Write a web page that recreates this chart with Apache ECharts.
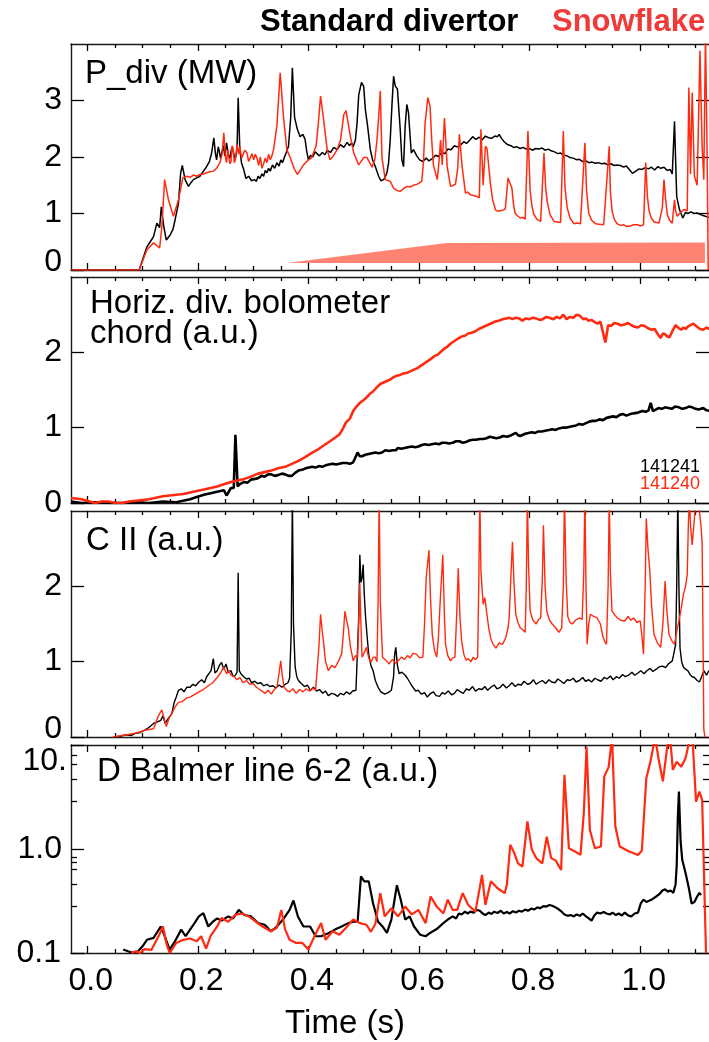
<!DOCTYPE html>
<html>
<head>
<meta charset="utf-8">
<script src="https://cdn.jsdelivr.net/npm/echarts@6/dist/echarts.min.js"></script>
<style>
  html, body { margin: 0; padding: 0; background: #fff; }
  #chart { width: 709px; height: 1042px; }
</style>
</head>
<body>
<div id="chart"></div>
<script>
// ---- time axis ----
const timeTicks = [0, 0.2, 0.4, 0.6, 0.8, 1.0];
const timeTickLabels = ['0.0', '0.2', '0.4', '0.6', '0.8', '1.0'];
const timeMinorTicks = [0.05, 0.1, 0.15, 0.25, 0.3, 0.35, 0.45, 0.5, 0.55, 0.65, 0.7, 0.75, 0.85, 0.9, 0.95, 1.05, 1.1];

// ---- panel value axes ----
const pdivTicks = [0, 1, 2, 3];
const pdivTickLabels = ['0', '1', '2', '3'];
const boloTicks = [0, 1, 2];
const boloTickLabels = ['0', '1', '2'];
const ciiTicks = [0, 1, 2];
const ciiTickLabels = ['0', '1', '2'];
const balmerTicks = [0.1, 1, 10];
const balmerTickLabels = ['0.1', '1.0', '10.'];
const balmerMinorTicks = [0.28, 0.46, 0.64, 0.74, 0.84, 2.9, 4.7, 6.6, 8.0];

// ---- shot numbers ----
const shotStandard = '141241';
const shotSnowflake = '141240';

// ---- P_div (MW), [time s, value] ----
const pdivStd = [
  [-0.029,0],[0.094,0],[0.108,0.41],[0.114,0.50],[0.120,0.59],[0.126,0.83],[0.131,0.75],[0.134,1.12],[0.138,0.80],
  [0.143,0.53],[0.150,0.62],[0.155,0.72],[0.159,0.89],[0.165,1.18],[0.169,1.72],[0.172,1.85],[0.177,1.60],[0.183,1.48],
  [0.188,1.55],[0.192,1.60],[0.198,1.63],[0.204,1.66],[0.208,1.72],[0.211,1.70],[0.214,1.80],[0.217,1.78],[0.221,1.92],
  [0.225,2.07],[0.229,2.34],[0.232,2.05],[0.234,1.95],[0.237,2.18],[0.239,2.10],[0.241,1.98],[0.243,2.05],[0.246,2.20],
  [0.249,2.02],[0.252,2.25],[0.255,2.05],[0.258,1.98],[0.261,2.15],[0.264,2.10],[0.267,1.96],[0.269,2.02],[0.271,2.15],
  [0.273,3.05],[0.276,2.13],[0.279,1.90],[0.283,1.78],[0.287,1.62],[0.292,1.66],[0.297,1.58],[0.302,1.60],[0.306,1.57],
  [0.309,1.66],[0.312,1.62],[0.316,1.70],[0.319,1.66],[0.322,1.76],[0.325,1.72],[0.328,1.80],[0.331,1.75],[0.335,1.86],
  [0.339,1.80],[0.343,1.90],[0.347,1.84],[0.350,1.95],[0.353,1.90],[0.356,1.98],[0.360,2.08],[0.364,2.19],[0.368,2.70],
  [0.371,3.58],[0.375,2.70],[0.380,2.49],[0.385,2.36],[0.390,2.40],[0.394,2.31],[0.397,2.10],[0.400,1.95],[0.404,2.03],
  [0.408,2.00],[0.412,2.09],[0.415,2.07],[0.420,2.02],[0.425,2.08],[0.430,2.04],[0.434,2.12],[0.440,2.08],[0.446,2.17],
  [0.452,2.13],[0.458,2.22],[0.464,2.17],[0.470,2.26],[0.474,2.20],[0.478,2.25],[0.481,2.18],[0.485,2.30],[0.488,2.60],
  [0.491,3.10],[0.496,3.32],[0.500,3.25],[0.503,2.84],[0.507,2.55],[0.512,2.13],[0.516,1.95],[0.521,1.83],[0.527,1.66],
  [0.531,1.58],[0.536,1.60],[0.539,1.65],[0.542,1.72],[0.545,1.90],[0.548,2.31],[0.551,2.90],[0.554,3.43],[0.557,3.26],
  [0.561,3.20],[0.566,2.49],[0.569,1.95],[0.572,1.83],[0.575,2.55],[0.578,2.93],[0.581,2.78],[0.586,2.07],[0.590,2.13],
  [0.596,2.02],[0.601,1.95],[0.607,1.92],[0.613,1.98],[0.618,1.93],[0.624,1.97],[0.630,2.03],[0.635,2.01],[0.641,2.08],
  [0.647,2.06],[0.652,2.14],[0.658,2.13],[0.664,2.20],[0.669,2.18],[0.675,2.21],[0.681,2.27],[0.686,2.24],[0.692,2.30],
  [0.697,2.36],[0.703,2.31],[0.709,2.35],[0.714,2.30],[0.720,2.37],[0.726,2.34],[0.731,2.33],[0.737,2.37],[0.742,2.36],
  [0.745,2.40],[0.749,2.33],[0.754,2.27],[0.760,2.22],[0.766,2.20],[0.771,2.17],[0.777,2.18],[0.783,2.15],[0.788,2.17],
  [0.794,2.14],[0.800,2.15],[0.805,2.12],[0.811,2.15],[0.817,2.14],[0.822,2.16],[0.828,2.12],[0.834,2.14],[0.839,2.11],
  [0.845,2.09],[0.851,2.06],[0.856,2.07],[0.862,2.03],[0.868,2.02],[0.873,1.99],[0.879,1.98],[0.885,1.95],[0.890,1.96],
  [0.896,1.92],[0.902,1.93],[0.907,1.90],[0.913,1.91],[0.919,1.89],[0.924,1.90],[0.930,1.88],[0.936,1.89],[0.941,1.86],
  [0.947,1.88],[0.953,1.85],[0.958,1.86],[0.964,1.85],[0.970,1.82],[0.975,1.84],[0.981,1.77],[0.986,1.71],[0.992,1.75],
  [0.998,1.79],[1.003,1.78],[1.009,1.81],[1.015,1.79],[1.020,1.82],[1.026,1.77],[1.032,1.83],[1.037,1.80],[1.043,1.82],
  [1.049,1.76],[1.054,1.78],[1.058,1.70],[1.062,2.63],[1.066,1.30],[1.071,1.07],[1.077,0.92],[1.082,1.02],[1.086,1.00],
  [1.092,1.03],[1.097,1.00],[1.103,1.01],[1.109,0.98],[1.115,0.96],[1.121,0.94],[1.128,0.93]
];
const pdivSnow = [
  [-0.029,0],[0.094,0],[0.108,0.36],[0.120,0.48],[0.131,0.39],[0.135,0.77],[0.140,1.60],[0.147,1.24],
  [0.156,0.95],[0.165,1.24],[0.173,1.63],[0.180,1.66],[0.186,1.64],[0.192,1.68],[0.198,1.66],[0.204,1.69],[0.210,1.70],
  [0.216,1.72],[0.222,1.74],[0.228,1.75],[0.234,1.80],[0.240,1.90],[0.244,2.05],[0.247,2.43],[0.250,2.00],[0.252,1.90],
  [0.254,2.12],[0.256,2.10],[0.258,1.88],[0.260,1.92],[0.262,2.20],[0.264,2.15],[0.266,1.90],[0.268,1.95],[0.271,2.22],
  [0.274,2.05],[0.276,2.19],[0.279,1.98],[0.282,2.00],[0.285,2.12],[0.289,2.07],[0.292,1.92],[0.295,1.90],[0.298,2.06],
  [0.301,1.95],[0.304,2.05],[0.307,1.98],[0.310,1.85],[0.313,2.00],[0.316,1.80],[0.319,1.88],[0.322,1.98],[0.325,1.90],
  [0.328,2.05],[0.331,1.95],[0.334,2.02],[0.337,2.13],[0.343,2.55],[0.349,3.49],[0.355,2.70],[0.361,2.13],[0.367,1.99],
  [0.374,1.80],[0.380,1.69],[0.386,1.78],[0.391,1.86],[0.400,1.95],[0.405,1.98],[0.409,2.07],[0.414,2.20],[0.418,2.60],
  [0.422,3.08],[0.427,2.70],[0.434,2.13],[0.439,1.95],[0.445,2.02],[0.452,2.13],[0.458,2.30],[0.464,2.75],[0.468,2.82],
  [0.476,2.36],[0.482,2.07],[0.491,1.86],[0.500,1.99],[0.506,1.99],[0.515,1.82],[0.520,1.95],[0.524,2.30],[0.527,2.70],
  [0.530,3.17],[0.533,1.99],[0.539,1.60],[0.548,1.57],[0.554,1.45],[0.560,1.41],[0.566,1.39],[0.572,1.44],[0.578,1.48],
  [0.584,1.47],[0.590,1.50],[0.597,1.52],[0.605,1.57],[0.608,1.90],[0.611,2.60],[0.616,3.05],[0.620,2.90],[0.623,2.30],
  [0.626,1.86],[0.633,1.60],[0.636,1.90],[0.639,2.30],[0.642,1.86],[0.646,2.69],[0.651,1.83],[0.657,1.48],[0.662,1.50],
  [0.666,1.52],[0.670,1.80],[0.673,2.40],[0.676,2.05],[0.678,1.83],[0.684,1.36],[0.688,1.38],[0.693,1.33],[0.699,1.32],
  [0.705,1.30],[0.709,1.28],[0.712,2.49],[0.716,1.50],[0.720,2.19],[0.723,2.15],[0.729,1.54],[0.733,1.25],[0.738,1.07],
  [0.742,1.04],[0.747,1.05],[0.752,1.06],[0.756,1.08],[0.761,1.63],[0.764,1.55],[0.768,1.45],[0.771,1.15],[0.774,1.00],
  [0.778,0.96],[0.783,0.92],[0.788,0.93],[0.792,0.90],[0.797,2.46],[0.801,1.40],[0.804,1.15],[0.807,1.00],[0.813,0.90],
  [0.820,0.86],[0.826,2.07],[0.829,1.45],[0.832,1.20],[0.837,0.98],[0.844,0.86],[0.850,0.85],[0.856,0.84],[0.861,2.46],
  [0.864,1.45],[0.868,1.10],[0.873,0.92],[0.880,0.82],[0.886,0.83],[0.892,0.82],[0.900,2.25],[0.903,1.40],[0.907,1.00],
  [0.912,0.88],[0.919,0.82],[0.926,0.81],[0.934,0.80],[0.944,2.19],[0.946,1.40],[0.949,1.05],[0.953,0.90],[0.958,0.82],
  [0.964,0.79],[0.970,0.80],[0.976,0.77],[0.982,0.78],[0.988,0.80],[0.995,0.80],[1.001,0.78],[1.006,0.80],[1.010,1.90],
  [1.013,1.30],[1.016,1.05],[1.020,0.92],[1.025,0.85],[1.030,0.84],[1.034,0.83],[1.040,1.10],[1.043,1.60],[1.046,1.25],
  [1.049,0.98],[1.053,0.88],[1.058,0.83],[1.062,1.24],[1.064,1.05],[1.067,0.95],[1.073,1.02],[1.079,1.07],[1.085,1.05],
  [1.088,3.23],[1.091,1.70],[1.094,3.14],[1.098,1.66],[1.103,1.50],[1.108,3.88],[1.112,2.20],[1.115,1.60],[1.118,4.20],
  [1.121,2.07],[1.123,0]
];
// snowflake coil ramp indicator: [time s, upper edge], lower edge fixed
const rampBase = 0.125;
const rampEdge = [[0.361,0.125],[0.650,0.48],[1.117,0.485]];

// ---- Horizontal divertor bolometer chord (a.u.) ----
const boloStd = [
  [-0.029,0.02],[-0.010,0.00],[0.014,0.01],[0.040,0.00],[0.063,0.00],[0.088,0.01],[0.112,0.00],[0.137,0.02],
  [0.161,0.01],[0.186,0.05],[0.198,0.08],[0.211,0.11],[0.223,0.13],[0.235,0.15],[0.247,0.17],[0.252,0.10],[0.260,0.20],
  [0.265,0.20],[0.268,0.905],[0.272,0.22],[0.276,0.25],[0.284,0.28],[0.290,0.27],[0.296,0.31],[0.303,0.32],[0.309,0.33],
  [0.315,0.36],[0.321,0.35],[0.327,0.38],[0.333,0.38],[0.339,0.36],[0.345,0.37],[0.352,0.39],[0.358,0.38],[0.364,0.36],
  [0.370,0.36],[0.376,0.40],[0.382,0.43],[0.388,0.44],[0.395,0.46],[0.401,0.47],[0.407,0.48],[0.413,0.47],[0.419,0.49],
  [0.425,0.48],[0.431,0.50],[0.437,0.51],[0.444,0.52],[0.450,0.51],[0.456,0.52],[0.462,0.53],[0.469,0.53],[0.475,0.52],
  [0.481,0.54],[0.489,0.67],[0.493,0.62],[0.497,0.62],[0.503,0.64],[0.509,0.65],[0.515,0.66],[0.521,0.67],[0.527,0.66],
  [0.533,0.67],[0.539,0.70],[0.546,0.69],[0.552,0.70],[0.558,0.70],[0.562,0.73],[0.568,0.72],[0.574,0.73],[0.580,0.74],
  [0.587,0.75],[0.593,0.74],[0.599,0.75],[0.605,0.77],[0.611,0.78],[0.617,0.77],[0.623,0.78],[0.630,0.79],[0.636,0.78],
  [0.642,0.80],[0.648,0.80],[0.654,0.79],[0.661,0.80],[0.667,0.82],[0.673,0.82],[0.679,0.80],[0.685,0.81],[0.691,0.83],
  [0.697,0.84],[0.703,0.84],[0.710,0.85],[0.716,0.85],[0.722,0.86],[0.728,0.88],[0.734,0.87],[0.740,0.86],[0.746,0.87],
  [0.752,0.89],[0.759,0.88],[0.767,0.90],[0.775,0.93],[0.779,0.90],[0.783,0.89],[0.792,0.92],[0.798,0.93],[0.804,0.94],
  [0.810,0.93],[0.816,0.95],[0.822,0.95],[0.828,0.96],[0.835,0.97],[0.841,0.98],[0.847,0.97],[0.853,0.99],[0.859,1.00],
  [0.865,1.00],[0.871,1.01],[0.877,1.02],[0.884,1.03],[0.890,1.05],[0.896,1.04],[0.902,1.06],[0.908,1.08],[0.914,1.09],
  [0.920,1.09],[0.926,1.11],[0.933,1.10],[0.939,1.13],[0.945,1.14],[0.951,1.15],[0.957,1.14],[0.963,1.17],[0.969,1.18],
  [0.975,1.16],[0.982,1.18],[0.988,1.19],[0.996,1.20],[1.004,1.22],[1.010,1.21],[1.015,1.23],[1.019,1.33],[1.023,1.22],
  [1.028,1.24],[1.033,1.26],[1.039,1.25],[1.045,1.27],[1.051,1.26],[1.057,1.25],[1.063,1.28],[1.070,1.27],[1.076,1.25],
  [1.082,1.26],[1.088,1.28],[1.094,1.27],[1.100,1.25],[1.106,1.24],[1.114,1.26],[1.120,1.23],[1.128,1.22]
];
const boloSnow = [
  [-0.029,0.066],[-0.010,0.05],[0.000,0.03],[0.014,0.00],[0.026,0.02],[0.039,0.02],[0.051,0.00],[0.063,0.00],
  [0.076,0.02],[0.088,0.03],[0.100,0.04],[0.112,0.05],[0.124,0.07],[0.137,0.09],[0.149,0.10],[0.161,0.11],
  [0.174,0.12],[0.186,0.14],[0.198,0.16],[0.211,0.18],[0.223,0.20],[0.235,0.22],[0.247,0.25],[0.260,0.28],
  [0.272,0.30],[0.284,0.32],[0.296,0.35],[0.309,0.39],[0.321,0.41],[0.333,0.43],[0.345,0.46],[0.358,0.48],
  [0.370,0.52],[0.382,0.56],[0.394,0.61],[0.407,0.67],[0.419,0.72],[0.431,0.78],[0.443,0.84],[0.456,0.91],
  [0.462,0.98],[0.468,1.07],[0.475,1.12],[0.481,1.22],[0.487,1.28],[0.493,1.33],[0.499,1.36],[0.505,1.40],[0.511,1.45],
  [0.517,1.48],[0.523,1.53],[0.530,1.58],[0.536,1.60],[0.542,1.62],[0.548,1.64],[0.554,1.67],[0.560,1.69],[0.566,1.70],
  [0.572,1.72],[0.579,1.73],[0.585,1.75],[0.591,1.77],[0.597,1.79],[0.603,1.82],[0.609,1.85],[0.615,1.88],[0.621,1.91],
  [0.628,1.95],[0.634,1.97],[0.640,2.01],[0.646,2.05],[0.652,2.08],[0.658,2.12],[0.664,2.15],[0.670,2.18],[0.677,2.21],
  [0.683,2.22],[0.689,2.25],[0.695,2.26],[0.702,2.28],[0.708,2.31],[0.714,2.33],[0.720,2.35],[0.726,2.37],[0.732,2.39],
  [0.738,2.41],[0.744,2.42],[0.751,2.44],[0.757,2.45],[0.763,2.46],[0.769,2.44],[0.775,2.46],[0.781,2.45],[0.787,2.42],
  [0.793,2.45],[0.800,2.44],[0.806,2.46],[0.812,2.45],[0.818,2.43],[0.824,2.44],[0.830,2.47],[0.836,2.46],[0.843,2.44],
  [0.849,2.47],[0.855,2.45],[0.861,2.50],[0.867,2.44],[0.873,2.47],[0.879,2.46],[0.885,2.50],[0.890,2.49],[0.897,2.44],
  [0.902,2.45],[0.906,2.42],[0.912,2.43],[0.918,2.40],[0.923,2.38],[0.928,2.41],[0.931,2.40],[0.937,2.13],[0.942,2.36],
  [0.947,2.35],[0.953,2.39],[0.959,2.38],[0.965,2.36],[0.972,2.37],[0.978,2.39],[0.984,2.36],[0.990,2.34],[0.996,2.33],
  [1.002,2.36],[1.008,2.35],[1.014,2.32],[1.021,2.30],[1.026,2.31],[1.031,2.25],[1.037,2.19],[1.041,2.25],[1.045,2.24],
  [1.049,2.21],[1.053,2.20],[1.058,2.28],[1.064,2.36],[1.070,2.32],[1.074,2.30],[1.078,2.33],[1.082,2.31],[1.086,2.34],
  [1.091,2.36],[1.096,2.38],[1.103,2.34],[1.108,2.31],[1.114,2.30],[1.120,2.33],[1.128,2.30]
];

// ---- C II (a.u.) ----
const ciiStd = [
  [0.047,0],[0.060,0.01],[0.071,0.03],[0.080,0.02],[0.088,0.05],[0.096,0.06],[0.104,0.09],[0.112,0.13],[0.120,0.18],
  [0.127,0.20],[0.133,0.22],[0.137,0.28],[0.141,0.18],[0.147,0.25],[0.153,0.31],[0.157,0.45],[0.161,0.53],[0.165,0.62],
  [0.170,0.64],[0.175,0.60],[0.180,0.66],[0.186,0.66],[0.191,0.70],[0.196,0.68],[0.202,0.73],[0.207,0.76],[0.212,0.72],
  [0.216,0.80],[0.219,0.79],[0.224,0.88],[0.228,1.04],[0.231,0.85],[0.235,0.88],[0.239,0.95],[0.243,0.99],[0.247,0.90],
  [0.251,0.97],[0.255,0.86],[0.260,0.88],[0.264,0.80],[0.268,0.82],[0.271,0.86],[0.273,2.18],[0.275,0.88],[0.278,0.84],
  [0.283,0.80],[0.288,0.77],[0.293,0.78],[0.297,0.72],[0.303,0.74],[0.308,0.71],[0.314,0.72],[0.319,0.68],[0.325,0.70],
  [0.330,0.67],[0.336,0.68],[0.341,0.65],[0.347,0.69],[0.352,0.66],[0.358,0.70],[0.363,0.72],[0.366,0.78],[0.369,1.40],
  [0.371,3.20],[0.373,1.50],[0.376,0.93],[0.379,0.80],[0.382,0.75],[0.387,0.71],[0.393,0.67],[0.398,0.69],[0.404,0.62],
  [0.409,0.66],[0.415,0.61],[0.420,0.63],[0.426,0.58],[0.431,0.61],[0.436,0.55],[0.442,0.58],[0.447,0.57],[0.453,0.54],
  [0.458,0.58],[0.464,0.56],[0.469,0.60],[0.475,0.57],[0.480,0.61],[0.486,0.62],[0.489,0.62],[0.491,1.60],[0.493,2.42],
  [0.495,2.05],[0.497,2.11],[0.499,2.29],[0.501,1.90],[0.503,1.63],[0.506,1.35],[0.509,1.10],[0.513,0.95],[0.517,0.88],
  [0.521,0.75],[0.526,0.66],[0.531,0.60],[0.538,0.57],[0.544,0.59],[0.550,0.62],[0.554,0.80],[0.556,1.10],[0.558,1.19],
  [0.561,0.95],[0.564,0.84],[0.569,0.86],[0.575,0.82],[0.579,0.78],[0.583,0.73],[0.588,0.67],[0.594,0.61],[0.599,0.62],
  [0.604,0.57],[0.610,0.59],[0.615,0.53],[0.621,0.58],[0.626,0.60],[0.631,0.55],[0.637,0.54],[0.642,0.59],[0.647,0.57],
  [0.653,0.61],[0.659,0.56],[0.664,0.58],[0.669,0.63],[0.675,0.60],[0.680,0.58],[0.686,0.64],[0.691,0.62],[0.697,0.67],
  [0.702,0.61],[0.708,0.64],[0.714,0.63],[0.719,0.67],[0.724,0.62],[0.730,0.66],[0.736,0.69],[0.741,0.64],[0.747,0.66],
  [0.752,0.70],[0.758,0.65],[0.763,0.68],[0.768,0.72],[0.774,0.67],[0.779,0.70],[0.785,0.69],[0.790,0.74],[0.796,0.70],
  [0.801,0.71],[0.807,0.76],[0.812,0.70],[0.818,0.73],[0.823,0.75],[0.829,0.71],[0.835,0.76],[0.840,0.73],[0.846,0.72],
  [0.851,0.77],[0.857,0.74],[0.862,0.71],[0.868,0.76],[0.873,0.75],[0.879,0.78],[0.884,0.73],[0.890,0.75],[0.896,0.79],
  [0.901,0.74],[0.907,0.76],[0.912,0.73],[0.918,0.78],[0.923,0.76],[0.929,0.74],[0.935,0.79],[0.940,0.77],[0.946,0.81],
  [0.951,0.76],[0.957,0.80],[0.962,0.78],[0.968,0.83],[0.973,0.80],[0.979,0.82],[0.985,0.86],[0.990,0.82],[0.996,0.85],
  [1.001,0.88],[1.007,0.84],[1.012,0.88],[1.018,0.91],[1.023,0.87],[1.029,0.90],[1.034,0.93],[1.040,0.94],[1.046,0.92],
  [1.051,0.97],[1.058,1.01],[1.062,1.15],[1.064,1.23],[1.066,2.00],[1.068,3.20],[1.070,2.00],[1.072,1.18],[1.075,1.00],
  [1.078,0.93],[1.082,0.90],[1.086,0.88],[1.090,0.83],[1.094,0.80],[1.098,0.79],[1.103,0.75],[1.107,0.73],[1.111,0.80],
  [1.115,0.88],[1.120,0.82],[1.124,0.88],[1.128,0.86]
];
const ciiSnow = [
  [0.047,0],[0.071,0.03],[0.088,0.05],[0.104,0.09],[0.120,0.11],[0.128,0.27],[0.135,0.36],[0.139,0.25],[0.143,0.14],
  [0.148,0.25],[0.153,0.31],[0.159,0.40],[0.165,0.46],[0.172,0.47],[0.180,0.52],[0.186,0.53],[0.193,0.56],[0.202,0.60],
  [0.210,0.63],[0.219,0.68],[0.227,0.72],[0.235,0.79],[0.241,0.85],[0.247,0.93],[0.252,0.84],[0.256,0.88],[0.260,0.82],
  [0.266,0.80],[0.271,0.76],[0.276,0.79],[0.282,0.72],[0.288,0.75],[0.294,0.70],[0.300,0.71],[0.306,0.66],[0.312,0.63],
  [0.318,0.60],[0.322,0.58],[0.327,0.62],[0.333,0.57],[0.338,0.63],[0.343,0.66],[0.346,0.80],[0.350,1.01],[0.353,0.80],
  [0.356,0.66],[0.361,0.62],[0.366,0.60],[0.372,0.64],[0.378,0.58],[0.384,0.63],[0.390,0.60],[0.396,0.64],[0.402,0.61],
  [0.408,0.65],[0.413,0.62],[0.416,0.64],[0.419,1.20],[0.422,1.63],[0.425,1.40],[0.427,1.28],[0.431,1.00],[0.436,0.88],
  [0.442,0.95],[0.448,0.92],[0.454,1.00],[0.460,1.10],[0.463,1.35],[0.466,1.67],[0.469,1.55],[0.472,1.45],[0.476,1.20],
  [0.481,1.01],[0.485,1.08],[0.489,1.06],[0.491,1.50],[0.493,2.04],[0.495,1.50],[0.497,1.06],[0.501,1.12],[0.505,1.19],
  [0.509,1.05],[0.513,0.99],[0.517,1.06],[0.521,1.06],[0.524,1.00],[0.526,1.80],[0.528,3.20],[0.530,1.80],[0.534,1.06],
  [0.540,1.02],[0.546,0.97],[0.552,1.03],[0.558,0.98],[0.562,1.01],[0.568,1.06],[0.574,1.03],[0.579,1.08],[0.584,1.05],
  [0.589,1.11],[0.595,1.10],[0.601,1.05],[0.607,1.06],[0.610,1.50],[0.613,2.11],[0.618,2.48],[0.621,1.80],[0.624,1.36],
  [0.628,1.15],[0.632,1.06],[0.635,1.30],[0.638,1.76],[0.643,2.42],[0.646,1.60],[0.648,1.23],[0.652,1.08],[0.657,1.01],
  [0.661,1.05],[0.665,1.06],[0.668,1.60],[0.671,2.24],[0.674,1.60],[0.677,1.28],[0.681,1.10],[0.685,1.02],[0.689,1.04],
  [0.694,1.00],[0.698,1.06],[0.702,1.03],[0.706,1.06],[0.708,2.00],[0.710,3.20],[0.712,2.20],[0.716,1.76],[0.719,1.85],
  [0.722,1.67],[0.726,1.45],[0.730,1.30],[0.734,1.23],[0.739,1.18],[0.745,1.25],[0.751,1.23],[0.757,1.32],[0.761,1.45],
  [0.763,1.58],[0.766,2.10],[0.769,2.59],[0.772,2.00],[0.775,1.63],[0.779,1.52],[0.783,1.45],[0.788,1.42],[0.792,1.39],
  [0.794,2.00],[0.796,3.20],[0.798,2.30],[0.801,1.67],[0.806,1.55],[0.812,1.50],[0.816,1.56],[0.820,1.58],[0.823,2.10],
  [0.825,2.81],[0.828,2.00],[0.831,1.67],[0.836,1.55],[0.841,1.50],[0.847,1.45],[0.853,1.39],[0.858,1.45],[0.861,2.00],
  [0.863,3.20],[0.866,2.10],[0.869,1.60],[0.873,1.52],[0.877,1.50],[0.883,1.55],[0.890,1.58],[0.895,1.56],[0.898,2.20],
  [0.900,3.20],[0.902,2.00],[0.904,1.23],[0.907,1.50],[0.910,1.63],[0.916,1.60],[0.922,1.58],[0.928,1.50],[0.932,1.35],
  [0.935,1.28],[0.939,1.23],[0.942,2.00],[0.944,3.20],[0.946,2.20],[0.949,1.67],[0.954,1.62],[0.959,1.58],[0.965,1.55],
  [0.972,1.54],[0.978,1.60],[0.983,1.55],[0.988,1.58],[0.994,1.52],[1.000,1.54],[1.003,1.35],[1.006,1.10],[1.009,2.00],
  [1.011,2.90],[1.014,2.50],[1.017,2.24],[1.021,1.70],[1.025,1.36],[1.031,1.25],[1.037,1.19],[1.041,1.50],[1.045,2.07],
  [1.048,1.70],[1.052,1.36],[1.057,1.28],[1.062,1.23],[1.066,1.40],[1.070,1.54],[1.074,1.70],[1.078,1.89],[1.082,2.00],
  [1.085,2.15],[1.087,2.80],[1.089,3.20],[1.091,2.80],[1.094,2.55],[1.098,2.90],[1.101,3.20],[1.104,3.10],[1.107,3.00],
  [1.110,2.80],[1.112,2.57],[1.114,1.00],[1.115,0.10],[1.117,0]
];

// ---- D Balmer line 6-2 (a.u.), log scale ----
const balmerStd = [
  [0.065,0.108],[0.080,0.101],[0.092,0.104],[0.100,0.116],[0.108,0.134],[0.120,0.140],[0.133,0.180],[0.138,0.156],
  [0.149,0.108],[0.157,0.125],[0.170,0.168],[0.178,0.145],[0.190,0.180],[0.202,0.225],[0.210,0.242],[0.219,0.180],
  [0.227,0.200],[0.235,0.215],[0.243,0.205],[0.255,0.225],[0.264,0.215],[0.274,0.260],[0.284,0.232],[0.296,0.225],
  [0.309,0.194],[0.321,0.187],[0.332,0.162],[0.341,0.175],[0.354,0.210],[0.366,0.260],[0.373,0.320],[0.381,0.225],
  [0.391,0.180],[0.403,0.180],[0.413,0.145],[0.423,0.145],[0.436,0.155],[0.448,0.168],[0.460,0.180],[0.472,0.194],
  [0.481,0.200],[0.489,0.200],[0.495,0.546],[0.501,0.490],[0.509,0.490],[0.517,0.300],[0.526,0.200],[0.534,0.180],
  [0.542,0.156],[0.550,0.210],[0.560,0.450],[0.567,0.326],[0.575,0.210],[0.583,0.225],[0.591,0.180],[0.602,0.150],
  [0.612,0.145],[0.620,0.156],[0.632,0.170],[0.644,0.194],[0.652,0.210],[0.661,0.225],[0.667,0.215],[0.672,0.240],
  [0.677,0.235],[0.683,0.250],[0.688,0.240],[0.693,0.250],[0.699,0.245],[0.704,0.260],[0.710,0.255],[0.715,0.240],
  [0.720,0.232],[0.726,0.245],[0.731,0.238],[0.736,0.250],[0.742,0.243],[0.748,0.255],[0.753,0.240],[0.759,0.248],
  [0.764,0.240],[0.770,0.253],[0.775,0.245],[0.781,0.255],[0.786,0.250],[0.792,0.262],[0.797,0.255],[0.803,0.268],
  [0.808,0.262],[0.814,0.275],[0.819,0.270],[0.825,0.283],[0.830,0.280],[0.836,0.290],[0.841,0.285],[0.847,0.275],
  [0.852,0.265],[0.858,0.250],[0.863,0.235],[0.869,0.228],[0.874,0.232],[0.880,0.225],[0.885,0.235],[0.891,0.228],
  [0.896,0.240],[0.902,0.225],[0.907,0.215],[0.912,0.205],[0.917,0.230],[0.922,0.245],[0.928,0.240],[0.934,0.248],
  [0.939,0.240],[0.945,0.235],[0.950,0.245],[0.956,0.232],[0.961,0.240],[0.967,0.230],[0.972,0.245],[0.978,0.230],
  [0.984,0.225],[0.990,0.240],[0.996,0.245],[1.001,0.300],[1.006,0.326],[1.011,0.310],[1.017,0.320],[1.022,0.330],
  [1.029,0.350],[1.035,0.370],[1.040,0.400],[1.045,0.410],[1.050,0.390],[1.055,0.400],[1.060,0.380],[1.064,0.460],
  [1.066,0.700],[1.068,2.00],[1.070,3.58],[1.073,1.20],[1.076,0.79],[1.082,0.59],[1.088,0.42],[1.093,0.30],
  [1.098,0.31],[1.103,0.35],[1.107,0.38],[1.110,0.36]
];
const balmerSnow = [
  [0.080,0.100],[0.088,0.104],[0.096,0.100],[0.104,0.109],[0.116,0.107],[0.129,0.145],[0.137,0.180],[0.143,0.125],
  [0.149,0.100],[0.161,0.125],[0.174,0.134],[0.186,0.138],[0.198,0.130],[0.206,0.145],[0.215,0.110],[0.223,0.145],
  [0.235,0.180],[0.243,0.217],[0.255,0.200],[0.268,0.234],[0.280,0.240],[0.292,0.225],[0.305,0.200],[0.317,0.180],
  [0.332,0.162],[0.343,0.175],[0.351,0.260],[0.358,0.168],[0.366,0.134],[0.378,0.125],[0.389,0.125],[0.400,0.108],
  [0.411,0.145],[0.423,0.194],[0.431,0.134],[0.444,0.162],[0.456,0.150],[0.468,0.175],[0.481,0.210],[0.493,0.194],
  [0.505,0.187],[0.513,0.160],[0.521,0.190],[0.530,0.377],[0.538,0.225],[0.550,0.270],[0.562,0.225],[0.575,0.280],
  [0.587,0.235],[0.599,0.260],[0.612,0.194],[0.621,0.350],[0.632,0.280],[0.644,0.240],[0.652,0.326],[0.661,0.260],
  [0.669,0.260],[0.679,0.377],[0.689,0.290],[0.702,0.250],[0.714,0.566],[0.720,0.290],[0.730,0.490],[0.742,0.420],
  [0.755,0.377],[0.759,0.460],[0.765,1.10],[0.771,0.95],[0.779,0.73],[0.787,0.68],[0.796,1.85],[0.804,0.99],
  [0.812,0.82],[0.823,0.73],[0.831,1.32],[0.839,0.82],[0.847,0.78],[0.857,0.63],[0.863,5.19],[0.871,1.02],
  [0.882,0.95],[0.892,0.88],[0.898,2.22],[0.903,9.7],[0.909,1.53],[0.918,1.02],[0.929,1.06],[0.935,4.99],
  [0.943,6.2],[0.949,12],[0.955,1.65],[0.963,1.06],[0.980,0.95],[0.996,0.88],[1.003,0.97],[1.011,4.8],
  [1.019,7.2],[1.027,12],[1.033,7.5],[1.041,4.5],[1.049,9.7],[1.054,12],[1.059,5.8],[1.066,6.96],
  [1.074,6.2],[1.082,7.5],[1.088,10.5],[1.094,13],[1.101,2.87],[1.107,3.58],[1.112,2.98],[1.119,0.1]
];

// ---- styling ----
const FONT = '"Liberation Sans", Arial, Helvetica, sans-serif';
const RED = '#ff2a10';
const TITLE_RED = '#f03a38';
const RAMP_FILL = '#ff8272';
const PLOT_LEFT = 71, PLOT_WIDTH = 638;
const X_MIN = -0.0293, X_MAX = 1.1244;

const panels = [
  { top: 44,  height: 226, log: false, min: 0,   max: 4.0,   ticks: pdivTicks,   labels: pdivTickLabels,
    labelPad: { 0: [0, 0, 16, 0] }, margin: 9, lw: 1.5, std: pdivStd, snow: pdivSnow },
  { top: 277, height: 226, log: false, min: 0,   max: 3.0,   ticks: boloTicks,   labels: boloTickLabels,
    labelPad: {}, margin: 9, lw: 2.6, std: boloStd, snow: boloSnow },
  { top: 511, height: 226, log: false, min: 0,   max: 3.0,   ticks: ciiTicks,    labels: ciiTickLabels,
    labelPad: { 0: [0, 0, 16, 0] }, margin: 9, lw: 1.4, std: ciiStd, snow: ciiSnow },
  { top: 745, height: 208, log: true,  min: 0.1, max: 10.07, ticks: balmerTicks, labels: balmerTickLabels,
    labelPad: { 0: [0, 6, 0, 0], 1: [0, 5, 0, 0], 2: [32, 0, 0, 0] }, margin: 4, lw: 2.2, std: balmerStd, snow: balmerSnow }
];

function findIndex(list, v) {
  let best = 0, bestD = Infinity;
  list.forEach((t, k) => {
    const d = Math.abs(t - v) / Math.max(Math.abs(t), 0.1);
    if (d < bestD) { bestD = d; best = k; }
  });
  return best;
}

// frame lines come from the axis lines (no right edge, it sits at the canvas edge)
const frame = show => ({ show, onZero: false, lineStyle: { color: '#1a1a1a', width: 1.4 } });
const ticks = (len, values) => ({ show: true, inside: true, length: len, customValues: values,
                                  lineStyle: { color: '#000', width: 1.3 } });
const grid = [], xAxis = [], yAxis = [], series = [];

panels.forEach((p, i) => {
  // main grid: frame, major ticks, labels, data
  const g = grid.length;
  grid.push({ left: PLOT_LEFT, width: PLOT_WIDTH, top: p.top, height: p.height, show: false });
  const xb = xAxis.length;
  const xLabel = (i === panels.length - 1) ? {
    show: true, customValues: timeTicks, margin: 12, color: '#000', fontSize: 32, fontFamily: FONT,
    formatter: v => '{t|' + timeTickLabels[findIndex(timeTicks, v)] + '}',
    rich: { t: { fontSize: 32, fontFamily: FONT, color: '#000', padding: [0, 0, 0, 7] } }
  } : { show: false };
  xAxis.push({ type: 'value', gridIndex: g, min: X_MIN, max: X_MAX, position: 'bottom', axisLine: frame(true),
    splitLine: { show: false }, axisTick: ticks(7, timeTicks), axisLabel: xLabel });
  xAxis.push({ type: 'value', gridIndex: g, min: X_MIN, max: X_MAX, position: 'top', axisLine: frame(true),
    splitLine: { show: false }, axisTick: ticks(7, timeTicks), axisLabel: { show: false } });

  const rich = {};
  p.ticks.forEach((t, k) => {
    rich['s' + k] = { fontSize: 32, fontFamily: FONT, color: '#000', padding: p.labelPad[k] || [0, 0, 0, 0] };
  });
  const yType = p.log ? 'log' : 'value';
  const yl = yAxis.length;
  yAxis.push({ type: yType, logBase: 10, gridIndex: g, min: p.min, max: p.max, position: 'left', axisLine: frame(true),
    splitLine: { show: false }, axisTick: ticks(13, p.ticks),
    axisLabel: { show: true, customValues: p.ticks, margin: p.margin, color: '#000', fontSize: 32, fontFamily: FONT,
      formatter: v => { const k = findIndex(p.ticks, v); return '{s' + k + '|' + p.labels[k] + '}'; }, rich } });
  yAxis.push({ type: yType, logBase: 10, gridIndex: g, min: p.min, max: p.max, position: 'right', axisLine: frame(false),
    splitLine: { show: false }, axisTick: ticks(13, p.ticks), axisLabel: { show: false } });

  // overlay grid on the same rectangle: minor ticks only
  const go = grid.length;
  grid.push({ left: PLOT_LEFT, width: PLOT_WIDTH, top: p.top, height: p.height, show: false });
  xAxis.push({ type: 'value', gridIndex: go, min: X_MIN, max: X_MAX, position: 'bottom', axisLine: frame(false),
    splitLine: { show: false }, axisTick: ticks(4, timeMinorTicks), axisLabel: { show: false } });
  xAxis.push({ type: 'value', gridIndex: go, min: X_MIN, max: X_MAX, position: 'top', axisLine: frame(false),
    splitLine: { show: false }, axisTick: ticks(4, timeMinorTicks), axisLabel: { show: false } });
  ['left', 'right'].forEach(pos => {
    yAxis.push({ type: yType, logBase: 10, gridIndex: go, min: p.min, max: p.max, position: pos, axisLine: frame(false),
      splitLine: { show: false }, axisTick: p.log ? ticks(6, balmerMinorTicks) : { show: false }, axisLabel: { show: false } });
  });

  if (i === 0) {
    series.push({ type: 'line', xAxisIndex: xb, yAxisIndex: yl, data: rampEdge, symbol: 'none',
      lineStyle: { width: 0 }, itemStyle: { color: RAMP_FILL },
      areaStyle: { color: RAMP_FILL, opacity: 1, origin: rampBase }, z: 1, silent: true });
  }
  series.push({ type: 'line', xAxisIndex: xb, yAxisIndex: yl, data: p.std, symbol: 'none', showSymbol: false,
    lineStyle: { color: '#000', width: p.lw }, itemStyle: { color: '#000' }, z: 2, silent: true });
  series.push({ type: 'line', xAxisIndex: xb, yAxisIndex: yl, data: p.snow, symbol: 'none', showSymbol: false,
    lineStyle: { color: RED, width: p.lw }, itemStyle: { color: RED }, z: 3, silent: true });
});

const txt = (text, x, y, size, fill, extra) => Object.assign({
  type: 'text', x, y, silent: true, z: 10,
  style: Object.assign({ text, fill, font: size + 'px ' + FONT, verticalAlign: 'middle', align: 'left' }, extra || {})
});

const graphic = [
  txt('Standard divertor', 260, 22, 31, '#000', { font: 'bold 31px ' + FONT }),
  txt('Snowflake', 552, 22, 31, TITLE_RED, { font: 'bold 31px ' + FONT }),
  txt('P_div (MW)', 85, 74, 33, '#000'),
  txt('Horiz. div. bolometer', 90, 304, 33, '#000'),
  txt('chord (a.u.)', 90, 334, 33, '#000'),
  txt(shotStandard, 700, 467, 18, '#000', { align: 'right' }),
  txt(shotSnowflake, 700, 484, 18, RED, { align: 'right' }),
  txt('C II (a.u.)', 86, 541, 33, '#000'),
  txt('D Balmer line 6-2 (a.u.)', 97, 772, 33, '#000'),
  txt('Time (s)', 345, 1024, 33, '#000', { align: 'center' })
];

const chart = echarts.init(document.getElementById('chart'), null, { renderer: 'canvas' });
chart.setOption({
  animation: false,
  backgroundColor: '#fff',
  grid, xAxis, yAxis, series, graphic
});
</script>
</body>
</html>
